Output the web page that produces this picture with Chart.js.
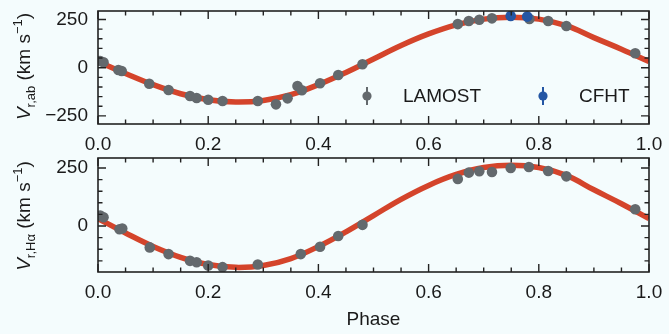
<!DOCTYPE html>
<html>
<head>
<meta charset="utf-8">
<script src="https://cdn.jsdelivr.net/npm/chart.js@4.4.0/dist/chart.umd.min.js"></script>
<style>
  body { margin: 0; background: #f4fcfd; }
  #wrap { position: relative; width: 669px; height: 334px; }
  canvas { position: absolute; left: 0; }
</style>
</head>
<body>
<div id="wrap">
  <canvas id="topChart" width="669" height="150" style="top:0"></canvas>
  <canvas id="bottomChart" width="669" height="184" style="top:150px"></canvas>
</div>
<script>
// model curve
const modelPhase = [0, 0.05, 0.1, 0.15, 0.2, 0.25, 0.3, 0.35, 0.4, 0.45, 0.5,
                    0.55, 0.6, 0.65, 0.7, 0.75, 0.8, 0.85, 0.9, 0.95, 1.0];
const modelVel = [32, -30, -88, -135, -166, -178, -170, -140, -88, -25, 45,
                  115, 175, 222, 252, 262, 252, 218, 156, 96, 32];

// top panel: absorption line velocities
const abLamostPhase = [0.004, 0.010, 0.037, 0.043, 0.093, 0.128, 0.167, 0.179, 0.200, 0.226, 0.290, 0.323, 0.344,
                       0.362, 0.370, 0.403, 0.436, 0.480, 0.653, 0.673, 0.692, 0.715, 0.783, 0.817, 0.850, 0.975];
const abLamostVel = [35, 28, -12, -17, -83, -116, -147, -157, -166, -173, -173, -190, -159,
                     -95, -117, -81, -38, 18, 226, 242, 249, 256, 253, 242, 216, 75];
const abCfhtPhase = [0.749, 0.779];
const abCfhtVel = [268, 265];

// bottom panel: H-alpha velocities
const haLamostPhase = [0.004, 0.010, 0.039, 0.044, 0.094, 0.128, 0.167, 0.179, 0.200, 0.226, 0.290, 0.368,
                       0.403, 0.436, 0.480, 0.653, 0.673, 0.692, 0.715, 0.749, 0.782, 0.817, 0.850, 0.975];
const haLamostVel = [45, 38, -14, -11, -92, -121, -150, -156, -170, -177, -166, -121,
                     -89, -43, 5, 203, 230, 236, 233, 250, 254, 237, 214, 72];

const xTicks = [0, 0.2, 0.4, 0.6, 0.8, 1.0];
const topYTicks = [-250, 0, 250];
const bottomYTicks = [0, 250];

const GREY = '#63696d';
const BLUE = '#2456a4';
const RED = '#d4442b';
const INK = '#1a1a1a';
const FONT = '"Liberation Sans", Arial, Helvetica, sans-serif';

Chart.defaults.font.family = FONT;
Chart.defaults.font.size = 19;
Chart.defaults.color = INK;

function pts(xs, ys) {
  return xs.map((x, i) => ({ x: x, y: ys[i] }));
}

// frame with inward major/minor ticks on all four sides
const frameTicks = {
  id: 'frameTicks',
  afterDraw(chart, args, o) {
    const { ctx, chartArea: a, scales: { x, y } } = chart;
    ctx.save();
    ctx.strokeStyle = '#222';
    ctx.lineWidth = 1.4;
    ctx.beginPath();
    for (let i = 0; i <= 20; i++) {
      const v = i * 0.05;
      const len = (i % 4 === 0) ? 8 : 4.5;
      const px = x.getPixelForValue(v);
      ctx.moveTo(px, a.bottom); ctx.lineTo(px, a.bottom - len);
      ctx.moveTo(px, a.top); ctx.lineTo(px, a.top + len);
    }
    for (let v = o.yFrom; v <= o.yTo; v += 50) {
      const len = (v % 250 === 0) ? 8 : 4.5;
      const py = y.getPixelForValue(v);
      ctx.moveTo(a.left, py); ctx.lineTo(a.left + len, py);
      ctx.moveTo(a.right, py); ctx.lineTo(a.right - len, py);
    }
    ctx.stroke();
    ctx.lineWidth = 1.6;
    ctx.strokeRect(a.left, a.top, a.right - a.left, a.bottom - a.top);
    ctx.restore();
  }
};

// rotated y title with subscript and superscript
const yTitle = {
  id: 'yTitle',
  afterDraw(chart, args, o) {
    const { ctx, chartArea: a } = chart;
    const big = '19px ' + FONT;
    const small = '13px ' + FONT;
    const parts = [
      { t: 'V', f: 'italic ' + big, dy: 0 },
      { t: o.sub, f: small, dy: 5 },
      { t: o.gap + '(km s', f: big, dy: 0 },
      { t: '\u22121', f: small, dy: -8 },
      { t: ')', f: big, dy: 0 }
    ];
    ctx.save();
    let w = 0;
    parts.forEach(p => { ctx.font = p.f; p.w = ctx.measureText(p.t).width; w += p.w; });
    ctx.translate(o.x, (a.top + a.bottom) / 2 + o.dy);
    ctx.rotate(-Math.PI / 2);
    ctx.fillStyle = INK;
    ctx.textBaseline = 'alphabetic';
    let cx = -w / 2;
    parts.forEach(p => { ctx.font = p.f; ctx.fillText(p.t, cx, p.dy); cx += p.w; });
    ctx.restore();
  }
};

// legend inside the top panel (marker with error bar + label)
const insideLegend = {
  id: 'insideLegend',
  afterDraw(chart, args, o) {
    if (!o.items) return;
    const { ctx, chartArea: a } = chart;
    ctx.save();
    ctx.font = '19px ' + FONT;
    ctx.textBaseline = 'middle';
    o.items.forEach(it => {
      const ds = chart.data.datasets[it.index];
      const mx = a.left + it.dx, my = a.top + o.dy;
      ctx.strokeStyle = ds.backgroundColor;
      ctx.lineWidth = 2;
      ctx.beginPath(); ctx.moveTo(mx, my - 9); ctx.lineTo(mx, my + 9); ctx.stroke();
      ctx.fillStyle = ds.backgroundColor;
      ctx.beginPath(); ctx.arc(mx, my, 4.6, 0, Math.PI * 2); ctx.fill();
      ctx.fillStyle = INK;
      ctx.fillText(ds.label, mx + 36, my + 1);
    });
    ctx.restore();
  }
};

function makeChart(id, datasets, cfg) {
  return new Chart(document.getElementById(id), {
    type: 'scatter',
    data: { datasets: datasets },
    plugins: [frameTicks, yTitle, insideLegend],
    options: {
      responsive: false,
      animation: false,
      events: [],
      layout: { padding: { top: cfg.padTop, right: 20, left: 0, bottom: 0 } },
      scales: {
        x: {
          type: 'linear', min: 0, max: 1,
          grid: { display: false, drawTicks: false },
          border: { display: false },
          afterBuildTicks: s => { s.ticks = xTicks.map(v => ({ value: v })); },
          afterFit: s => { s.height = cfg.xHeight; s.paddingLeft = 0; s.paddingRight = 0; },
          ticks: { padding: 9, maxRotation: 0, callback: v => v.toFixed(1) },
          title: {
            display: !!cfg.xTitle, text: cfg.xTitle || '',
            font: { size: 19 }, padding: { top: 0, bottom: 3 }
          }
        },
        y: {
          type: 'linear', min: cfg.yMin, max: cfg.yMax,
          grid: { display: false, drawTicks: false },
          border: { display: false },
          afterBuildTicks: s => { s.ticks = cfg.yTicks.map(v => ({ value: v })); },
          afterFit: s => { s.width = 98; s.paddingTop = 0; s.paddingBottom = 0; },
          ticks: { padding: 10, callback: v => (v < 0 ? '\u2212' + Math.abs(v) : String(v)) }
        }
      },
      plugins: {
        legend: { display: false },
        tooltip: { enabled: false },
        frameTicks: { yFrom: cfg.yFrom, yTo: 250 },
        yTitle: { sub: cfg.sub, gap: cfg.gap, x: 30, dy: cfg.titleDy },
        insideLegend: cfg.legend || {}
      }
    }
  });
}

const curve = () => ({
  label: 'Model',
  data: pts(modelPhase, modelVel),
  showLine: true,
  borderColor: RED,
  borderWidth: 5.5,
  tension: 0.4,
  pointRadius: 0,
  fill: false
});

makeChart('topChart', [
  { label: 'CFHT', data: pts(abCfhtPhase, abCfhtVel), backgroundColor: BLUE, borderWidth: 0, pointRadius: 5.3 },
  { label: 'LAMOST', data: pts(abLamostPhase, abLamostVel), backgroundColor: GREY, borderWidth: 0, pointRadius: 5.3 },
  curve()
], {
  padTop: 11, xHeight: 26, yMin: -292, yMax: 294, yTicks: topYTicks, yFrom: -250,
  sub: 'r,ab', gap: ' ', titleDy: -1,
  legend: { dy: 85, items: [{ index: 1, dx: 269 }, { index: 0, dx: 445 }] }
});

makeChart('bottomChart', [
  { label: 'LAMOST', data: pts(haLamostPhase, haLamostVel), backgroundColor: GREY, borderWidth: 0, pointRadius: 5.3 },
  curve()
], {
  padTop: 8, xHeight: 62, yMin: -198, yMax: 293, yTicks: bottomYTicks, yFrom: -150,
  sub: 'r,H\u03b1', gap: ' ', titleDy: 1, xTitle: 'Phase'
});
</script>
</body>
</html>
